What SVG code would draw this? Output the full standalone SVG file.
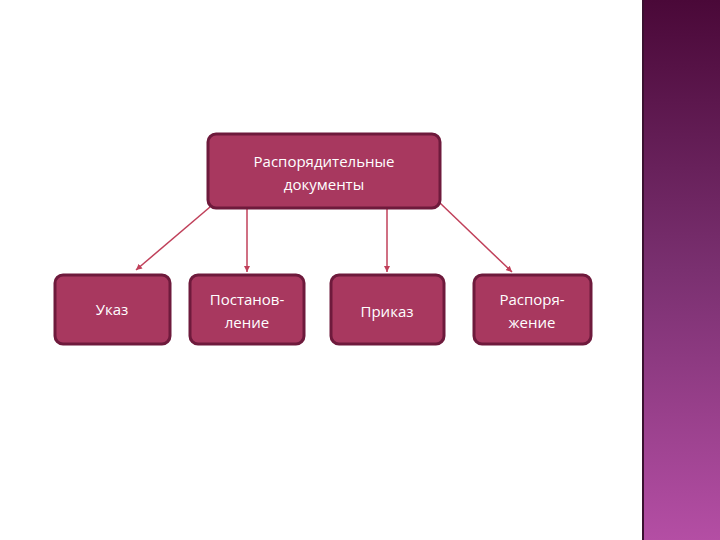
<svg xmlns="http://www.w3.org/2000/svg" width="720" height="540" viewBox="0 0 720 540">
<defs>
<linearGradient id="bar" x1="0" y1="0" x2="0" y2="1">
<stop offset="0" stop-color="#4a0838"/>
<stop offset="0.5" stop-color="#7a3070"/>
<stop offset="1" stop-color="#b44ea4"/>
</linearGradient>
<marker id="ah" markerWidth="8" markerHeight="8" refX="6" refY="4" orient="auto" markerUnits="userSpaceOnUse">
<path d="M0,1 L6,4 L0,7 z" fill="#c0405a"/>
</marker>
<style>
.n{fill:#a8385f;stroke:#6e1a3c;stroke-width:3}
.t{fill:#fff;font-family:"Open Sans","DejaVu Sans",sans-serif;font-size:15px;text-anchor:middle}
.c{stroke:#c0405a;stroke-width:1.5;fill:none;marker-end:url(#ah)}
</style>
</defs>
<rect width="720" height="540" fill="#fff"/>
<rect x="643" y="0" width="77" height="540" fill="url(#bar)"/>
<rect x="642" y="0" width="2" height="540" fill="#3a1030"/>
<g id="connectors">
<line class="c" x1="210" y1="207" x2="136" y2="270"/>
<line class="c" x1="247" y1="209" x2="247" y2="272"/>
<line class="c" x1="387" y1="209" x2="387" y2="272"/>
<line class="c" x1="440" y1="203" x2="512" y2="272"/>
</g>
<g id="root"><rect class="n" x="208" y="134" width="232" height="74" rx="8"/>
<text class="t" x="324" y="167">Распорядительные</text><text class="t" x="324" y="190">документы</text></g>
<g id="ukaz"><rect class="n" x="55" y="275" width="115" height="69" rx="8"/><text class="t" x="112" y="315">Указ</text></g>
<g id="post"><rect class="n" x="190" y="275" width="114" height="69" rx="8"/><text class="t" x="247" y="305">Постанов-</text><text class="t" x="247" y="328">ление</text></g>
<g id="prikaz"><rect class="n" x="331" y="275" width="113" height="69" rx="8"/><text class="t" x="387" y="317">Приказ</text></g>
<g id="rasp"><rect class="n" x="474" y="275" width="117" height="69" rx="8"/><text class="t" x="532" y="305">Распоря-</text><text class="t" x="532" y="328">жение</text></g>
</svg>
